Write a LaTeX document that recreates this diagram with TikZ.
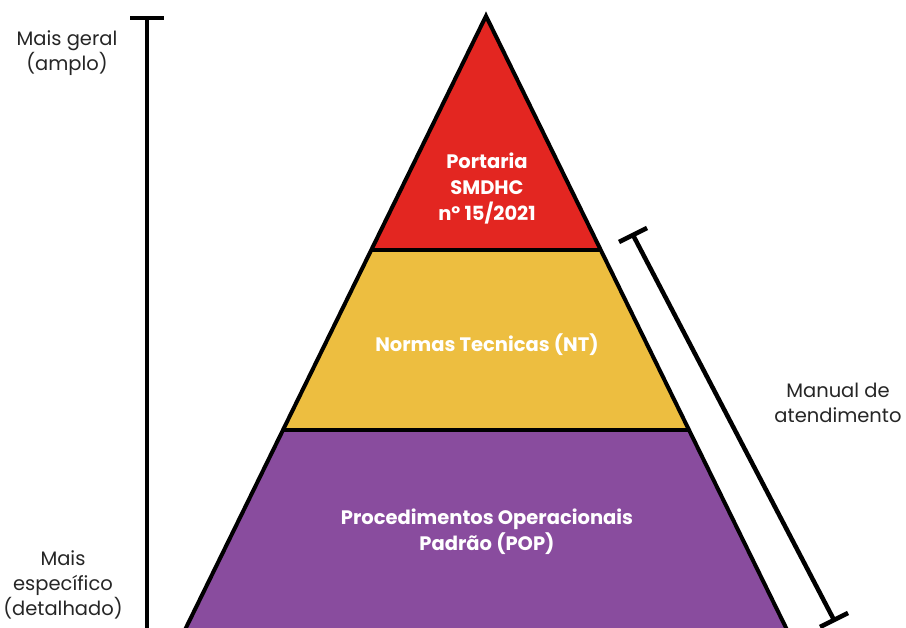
\documentclass[tikz,border=0pt]{standalone}
\usepackage{fontspec}
\setmainfont{Poppins}
\usetikzlibrary{calc}
\definecolor{pred}{RGB}{227,38,33}
\definecolor{pyel}{RGB}{237,190,64}
\definecolor{ppur}{RGB}{137,76,158}
\begin{document}
\begin{tikzpicture}[x=1pt,y=-1pt,
  outline/.style={line width=4pt,line join=miter},
  barline/.style={line width=4.5pt},
  lbl/.style={align=center,font=\fontsize{19.5}{25}\selectfont,text=black!85},
  inlbl/.style={align=center,font=\fontsize{19.5}{26}\selectfont\bfseries,text=white}]
\useasboundingbox (0,0) rectangle (906,628);
\clip (0,0) rectangle (906,628);
\fill[white] (0,0) rectangle (906,628);
% key points
\coordinate (apex) at (486,16);
\coordinate (rl) at (371.3,250);
\coordinate (rr) at (600.7,250);
\coordinate (yl) at (283.1,430);
\coordinate (yr) at (688.9,430);
\coordinate (bl) at (180,640);
\coordinate (br) at (792,640);
% fills
\fill[ppur] (yl) -- (yr) -- (br) -- (bl) -- cycle;
\fill[pyel] (rl) -- (rr) -- (yr) -- (yl) -- cycle;
\fill[pred] (apex) -- (rr) -- (rl) -- cycle;
% outlines
\draw[outline] (bl) -- (apex) -- (br);
\draw[outline] (rl) -- (rr);
\draw[outline] (yl) -- (yr);
% left bar
\coordinate (lt) at (147,18);
\coordinate (lb) at (147,640);
\coordinate (ltc1) at (130,18);
\coordinate (ltc2) at (164,18);
\draw[barline] (lt) -- (lb);
\draw[barline] (ltc1) -- (ltc2);
% right bar
\coordinate (rt) at (633,235);
\coordinate (rb) at (834,620);
\coordinate (rtc1) at (619,242);
\coordinate (rtc2) at (647,228);
\coordinate (rbc1) at (820,627);
\coordinate (rbc2) at (848,613);
\draw[barline] (rt) -- (rb);
\draw[barline] (rtc1) -- (rtc2);
\draw[barline] (rbc1) -- (rbc2);
% labels
\node[lbl] (geral) at (67,53) {Mais geral\\(amplo)};
\node[lbl] (espec) at (63,585) {Mais\\específico\\(detalhado)};
\node[lbl] (manual) at (838,403) {Manual de\\atendimento};
\node[inlbl] (port) at (487,189) {Portaria\\SMDHC\\nº 15/2021};
\node[inlbl] (nt) at (487,345) {Normas Tecnicas (NT)};
\node[inlbl] (pop) at (487,532) {Procedimentos Operacionais\\Padrão (POP)};
\end{tikzpicture}
\end{document}
